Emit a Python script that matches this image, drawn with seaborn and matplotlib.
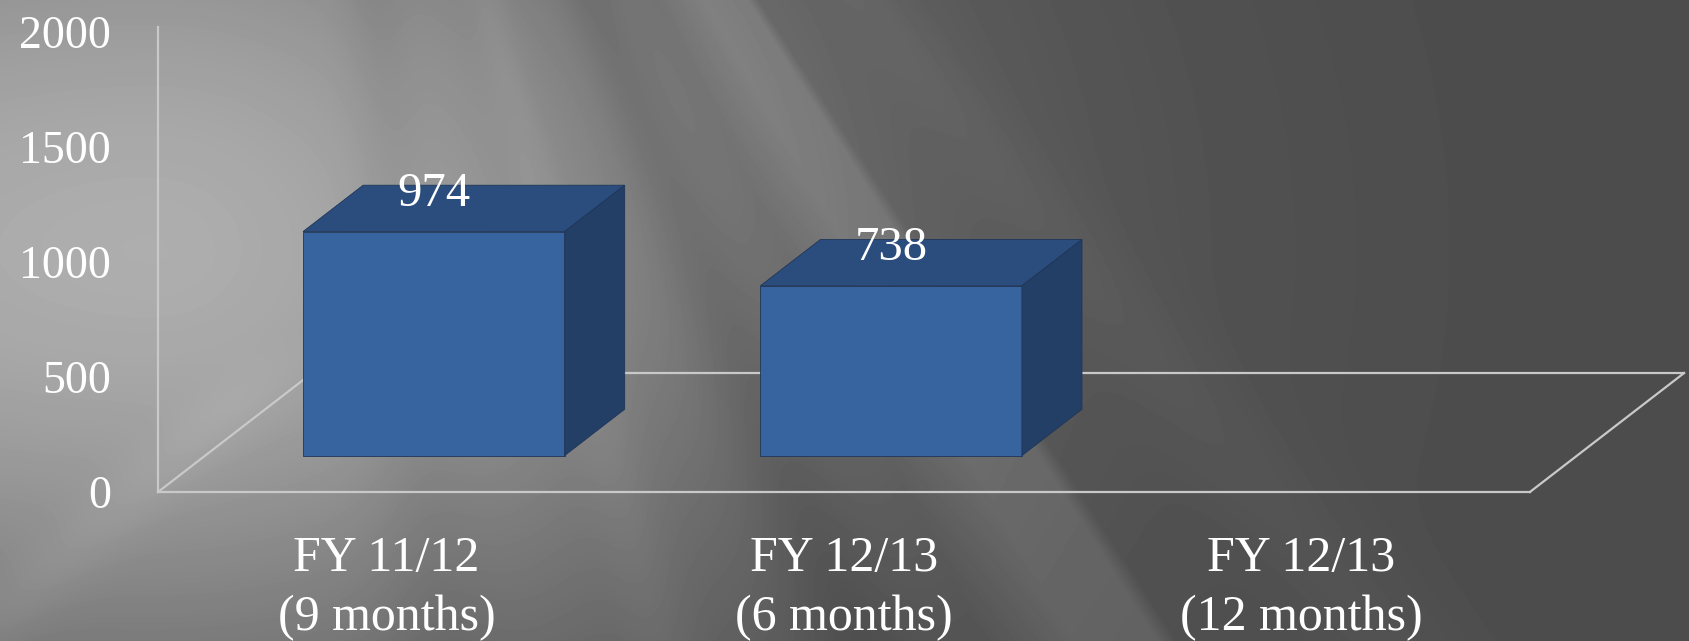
import numpy as np
import pandas as pd
import seaborn as sns
import matplotlib.pyplot as plt
from matplotlib.patches import Polygon

# chart data
categories = ["FY 11/12\n(9 months)", "FY 12/13\n(6 months)", "FY 12/13\n(12 months)"]
values = [974, 738, np.nan]
bar_labels = ["974", "738", ""]
yticks = [0, 500, 1000, 1500, 2000]

FONT = "Liberation Serif"
FRONT = "#37649f"
TOP = "#2b4d7d"
SIDE = "#243f66"
EDGE = "#1f3658"
LINE = "#c9c9c9"

# fake depth: floor depth in (category units, value units)
DX, DY = 0.337, 517
Z0, ZB = 0.306, 0.39  # bar front depth / bar depth (fractions of floor)

W, H = 1689, 641
fig = plt.figure(figsize=(W / 100, H / 100), dpi=100)

# background: soft light from the left plus rays fanning from above
bg = fig.add_axes([0, 0, 1, 1], zorder=-5)
yy, xx = np.mgrid[0:H, 0:W].astype(float)
ddx = np.where(xx > 150, xx - 150, (xx - 150) * 0.6)
ddy = np.where(yy > 250, (yy - 250) * 1.35, (yy - 250) * 1.25)
d = np.hypot(ddx, ddy)
g = 0.30 + 0.38 * np.exp(-(d / 620.0) ** 2)
th = np.degrees(np.arctan2(xx - 300, yy + 700))
g += 0.07 * np.clip((th - 27) / 3.0, 0, 1) * np.clip((33.2 - th) / 0.6, 0, 1)
g -= 0.04 * np.exp(-((th - 22.5) / 2.0) ** 2)
g += 0.025 * np.exp(-((th - 15) / 1.5) ** 2)
g -= 0.03 * np.exp(-((th - 6) / 2.5) ** 2)
g += 0.02 * np.exp(-((th - 39) / 2.0) ** 2)
# faint streak in the lower left
g += 0.03 * np.exp(-((xx + 1.1 * (yy - 380) - 260) / 50.0) ** 2) * np.clip((yy - 330) / 80.0, 0, 1)
bg.imshow(np.clip(g, 0, 1), cmap="gray", vmin=0, vmax=1, aspect="auto",
          extent=[0, 1, 0, 1], interpolation="bilinear")
bg.axis("off")

ax = fig.add_axes([158 / W, 149 / H, (W - 158) / W, 460 / H])
ax.set_facecolor("none")

df = pd.DataFrame({"period": categories, "count": values})
sns.barplot(data=df, x="period", y="count", width=0.572, color=FRONT,
            saturation=1, ax=ax, zorder=3, edgecolor=EDGE, linewidth=0.6)

ax.set_xlim(-0.5, -0.5 + (W - 158) / 457.3)
ax.set_ylim(0, 2000)

# floor outline and vertical axis line
fl = dict(color=LINE, lw=1.6, zorder=1, clip_on=False)
ax.plot([-0.5, 2.5], [0, 0], **fl)
ax.plot([-0.5, -0.5 + DX], [0, DY], **fl)
ax.plot([-0.5 + DX, 2.5 + DX], [DY, DY], **fl)
ax.plot([2.5, 2.5 + DX], [0, DY], **fl)
ax.plot([-0.5, -0.5], [0, 2020], **fl)

# turn the flat bars into boxes
bdx, bdy = ZB * DX, ZB * DY
for p, lab in zip(ax.patches, bar_labels):
    h = p.get_height()
    if not np.isfinite(h) or h == 0:
        continue
    x0 = p.get_x() + Z0 * DX
    y0 = Z0 * DY
    w = p.get_width()
    p.set_x(x0)
    p.set_y(y0)
    top = Polygon([(x0, y0 + h), (x0 + w, y0 + h), (x0 + w + bdx, y0 + h + bdy),
                   (x0 + bdx, y0 + h + bdy)], closed=True, fc=TOP, ec=EDGE,
                  lw=0.6, zorder=3, clip_on=False)
    side = Polygon([(x0 + w, y0), (x0 + w + bdx, y0 + bdy), (x0 + w + bdx, y0 + h + bdy),
                    (x0 + w, y0 + h)], closed=True, fc=SIDE, ec=EDGE, lw=0.6,
                   zorder=3, clip_on=False)
    ax.add_patch(top)
    ax.add_patch(side)
    ax.annotate(lab, (x0 + w / 2, y0 + h), xytext=(0, 27), textcoords="offset points",
                ha="center", va="center", color="white", fontsize=35, family=FONT,
                zorder=5)

ax.set_yticks(yticks)
ax.set_yticklabels([str(t) for t in yticks])
ax.tick_params(axis="y", length=0, pad=34, labelsize=33, labelcolor="white")
ax.tick_params(axis="x", length=0, pad=31, labelsize=36, labelcolor="white")
for t in ax.get_xticklabels() + ax.get_yticklabels():
    t.set_family(FONT)
for t in ax.get_xticklabels():
    t.set_linespacing(1.36)
ax.set_xlabel("")
ax.set_ylabel("")
for sp in ax.spines.values():
    sp.set_visible(False)

fig.savefig("out.png", dpi=100)
